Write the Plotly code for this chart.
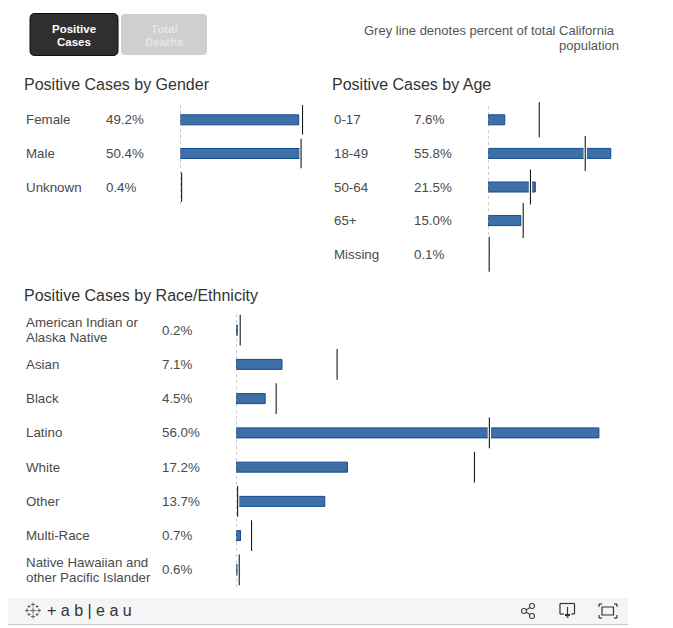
import plotly.graph_objects as go

PAGE_W, PAGE_H = 673, 628
BODY = 8  # the page's own margin around the figure
W, H = PAGE_W - BODY, PAGE_H - BODY
FONT = "Liberation Sans, Arial, sans-serif"
TEXT = "#4a4a4a"
BAR_FILL = "#3e6fa8"
BAR_EDGE = "#0f4c8c"

gender_labels = ["Female", "Male", "Unknown"]
gender_values = [49.2, 50.4, 0.4]
gender_pop = [50.8, 50.2, 0.55]

age_labels = ["0-17", "18-49", "50-64", "65+", "Missing"]
age_values = [7.6, 55.8, 21.5, 15.0, 0.1]
age_pop = [23.3, 44.2, 19.3, 16.0, 0.55]

race_labels = ["American Indian or|Alaska Native", "Asian", "Black", "Latino", "White",
               "Other", "Multi-Race", "Native Hawaiian and|other Pacific Islander"]
race_values = [0.2, 7.1, 4.5, 56.0, 17.2, 13.7, 0.7, 0.6]
race_pop = [0.65, 15.6, 6.2, 39.1, 36.8, 0.25, 2.4, 0.5]


def X(p):
    return (p - BODY) / W


def Y(p):
    return 1 - (p - BODY) / H


panels = [
    dict(name="Positive Cases by Gender", labels=gender_labels, values=gender_values, pop=gender_pop,
         x0=180.3, x1=325, top=103, bot=204, scale=2.406, lab=26, pct=106, tick=21, title=(24, 85)),
    dict(name="Positive Cases by Age", labels=age_labels, values=age_values, pop=age_pop,
         x0=488, x1=628, top=103, bot=271, scale=2.2, lab=334, pct=414, tick=25, title=(332, 85)),
    dict(name="Positive Cases by Race/Ethnicity", labels=race_labels, values=race_values, pop=race_pop,
         x0=236, x1=628, top=313, bot=587, scale=6.48, lab=26, pct=162, tick=22, title=(24, 295)),
]

fig = go.Figure()
annotations = []
shapes = []


def note(text, x, y, size=13.33, color=TEXT, xanchor="left", bold=False, family=FONT):
    annotations.append(dict(text=f"<b>{text}</b>" if bold else text, xref="paper", yref="paper",
                            x=X(x), y=Y(y), xanchor=xanchor, yanchor="middle", showarrow=False,
                            align="left", font=dict(size=size, color=color, family=family),
                            borderpad=0, borderwidth=0))


def rect(x0, y0, x1, y1, fill, line=None, lw=0, layer="below"):
    shapes.append(dict(type="rect", xref="paper", yref="paper", x0=X(x0), x1=X(x1), y0=Y(y0), y1=Y(y1),
                       fillcolor=fill, line=dict(color=line or fill, width=lw), layer=layer))


def seg(x0, y0, x1, y1, color="#333333", lw=1.2, dash="solid"):
    shapes.append(dict(type="line", xref="paper", yref="paper", x0=X(x0), x1=X(x1), y0=Y(y0), y1=Y(y1),
                       line=dict(color=color, width=lw, dash=dash), layer="above"))


def ring(cx, cy, r, color="#444444", lw=1.1):
    shapes.append(dict(type="circle", xref="paper", yref="paper", x0=X(cx - r), x1=X(cx + r),
                       y0=Y(cy - r), y1=Y(cy + r), line=dict(color=color, width=lw), fillcolor="rgba(0,0,0,0)"))


def round_rect(x0, y0, x1, y1, r, fill, line, lw):
    a, b, c, d = X(x0), X(x1), Y(y0), Y(y1)
    rx, ry = r / W, r / H
    path = (f"M {a+rx} {c} L {b-rx} {c} Q {b} {c} {b} {c-ry} L {b} {d+ry} Q {b} {d} {b-rx} {d} "
            f"L {a+rx} {d} Q {a} {d} {a} {d+ry} L {a} {c-ry} Q {a} {c} {a+rx} {c} Z")
    shapes.append(dict(type="path", xref="paper", yref="paper", path=path, fillcolor=fill,
                       line=dict(color=line, width=lw), layer="below"))


layout_axes = {}
for i, p in enumerate(panels):
    suffix = "" if i == 0 else str(i + 1)
    xa, ya = "x" + suffix, "y" + suffix
    cats = p["labels"]
    n = len(cats)
    row_h = (p["bot"] - p["top"]) / n
    layout_axes["xaxis" + suffix] = dict(domain=[X(p["x0"]), X(p["x1"])],
                                         range=[0, (p["x1"] - p["x0"]) / p["scale"]],
                                         visible=False, fixedrange=True, anchor=ya)
    layout_axes["yaxis" + suffix] = dict(domain=[Y(p["bot"]), Y(p["top"])], type="category",
                                         categoryorder="array", categoryarray=cats,
                                         range=[n - 0.5, -0.5], visible=False, fixedrange=True, anchor=xa)
    fig.add_trace(go.Bar(x=p["values"], y=cats, orientation="h", width=10 / row_h,
                         marker=dict(color=BAR_FILL, line=dict(color=BAR_EDGE, width=1)),
                         xaxis=xa, yaxis=ya, showlegend=False, hoverinfo="skip"))
    fig.add_trace(go.Scatter(x=p["pop"], y=cats, mode="markers", xaxis=xa, yaxis=ya, showlegend=False,
                             hoverinfo="skip", cliponaxis=False,
                             marker=dict(symbol="line-ns", size=p["tick"], color="#ffffff",
                                         line=dict(color="#ffffff", width=3.3))))
    fig.add_trace(go.Scatter(x=p["pop"], y=cats, mode="markers", xaxis=xa, yaxis=ya, showlegend=False,
                             hoverinfo="skip", cliponaxis=False,
                             marker=dict(symbol="line-ns", size=p["tick"], color="#1a1a1a",
                                         line=dict(color="#1a1a1a", width=1.1))))
    shapes.append(dict(type="line", xref=xa, yref=ya + " domain", x0=0, x1=0, y0=0, y1=1,
                       line=dict(color="#9a9a9a", width=1, dash="dot"), layer="above"))
    note(p["name"], p["title"][0], p["title"][1], size=16, color="#333333")
    for j, (c, v) in enumerate(zip(cats, p["values"])):
        cy = p["top"] + row_h * (j + 0.5)
        parts = c.split("|")
        if len(parts) == 2:
            note(parts[0], p["lab"], cy - 7.5)
            note(parts[1], p["lab"], cy + 7.5)
        else:
            note(c, p["lab"], cy)
        note(f"{v:.1f}%", p["pct"], cy)

# Filter buttons
round_rect(30, 13.5, 118, 55.5, 5, "#2f2f2f", "#0d0d0d", 1)
round_rect(121, 14, 207, 55, 4, "#cfcfcf", "#cfcfcf", 0)
note("Positive", 74, 29, size=11.5, color="#ffffff", xanchor="center", bold=True)
note("Cases", 74, 41.5, size=11.5, color="#ffffff", xanchor="center", bold=True)
note("Total", 164, 29, size=11.5, color="#e6e6e6", xanchor="center", bold=True)
note("Deaths", 164, 41.5, size=11.5, color="#e6e6e6", xanchor="center", bold=True)

# Header note
note("Grey line denotes percent of total California", 615, 30, size=13, color="#555555", xanchor="right")
note("population", 619, 45, size=13, color="#555555", xanchor="right")

# Toolbar
rect(8, 598, 628, 624, "#f5f5f5")
seg(8, 624.5, 628, 624.5, color="#c8c8c8", lw=1.2)
note("+ a b | e a u", 47, 610, size=16, color="#333333")
# Tableau mark
for dx, dy, r in [(0, 0, 3), (0, -6, 2), (0, 6, 2), (-6, 0, 2), (6, 0, 2), (-4, -4, 1.5), (4, -4, 1.5), (-4, 4, 1.5), (4, 4, 1.5)]:
    seg(33 + dx - r, 610.5 + dy, 33 + dx + r, 610.5 + dy, color="#666666", lw=1)
    seg(33 + dx, 610.5 + dy - r, 33 + dx, 610.5 + dy + r, color="#666666", lw=1)
# Share icon
ring(532, 606, 2.5)
ring(524, 611, 2.5)
ring(532, 616, 2.5)
seg(526, 610, 530, 607.5, color="#444444", lw=1.1)
seg(526, 612, 530, 614.5, color="#444444", lw=1.1)
# Download icon
seg(564, 614, 560, 614); seg(560, 614, 560, 603.5); seg(560, 603.5, 574.5, 603.5)
seg(574.5, 603.5, 574.5, 614); seg(574.5, 614, 571, 614)
seg(567.5, 607, 567.5, 616, lw=1.2)
seg(565, 615, 570, 615, lw=2)
seg(566.5, 617, 568.5, 617, lw=1.5)
# Fullscreen icon
rect(602, 607, 613.5, 615, "rgba(0,0,0,0)", "#333333", 1.2, layer="above")
for sx, sy, hx, vy in [(599, 604, 1, 1), (617, 604, -1, 1), (599, 618, 1, -1), (617, 618, -1, -1)]:
    seg(sx, sy, sx + 3 * hx, sy)
    seg(sx, sy, sx, sy + 3 * vy)

fig.update_layout(width=W, height=H, margin=dict(l=0, r=0, t=0, b=0), autosize=False,
                  paper_bgcolor="#ffffff", plot_bgcolor="rgba(0,0,0,0)", barmode="overlay",
                  showlegend=False, annotations=annotations, shapes=shapes, **layout_axes)
fig.write_html("out.html", config=dict(displayModeBar=False))
